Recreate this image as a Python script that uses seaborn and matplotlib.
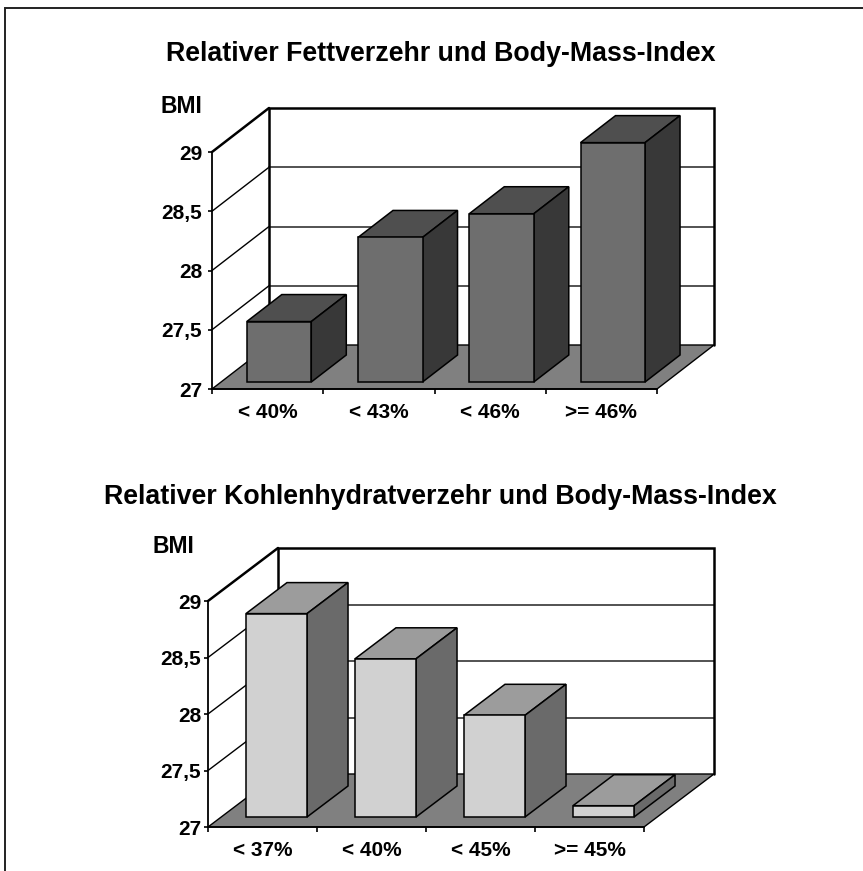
import matplotlib
matplotlib.use("Agg")
import matplotlib.pyplot as plt
import seaborn as sns
from matplotlib.lines import Line2D
from matplotlib.patches import Polygon

sns.set_theme(style="white")
plt.rcParams['font.family'] = ['Liberation Sans', 'DejaVu Sans']
plt.rcParams['font.weight'] = 'bold'

# Data
fat_labels = ['< 40%', '< 43%', '< 46%', '>= 46%']
fat_bmi = [27.51, 28.22, 28.42, 29.02]
carb_labels = ['< 37%', '< 40%', '< 45%', '>= 45%']
carb_bmi = [28.8, 28.4, 27.9, 27.1]
bmi_ticks = [27, 27.5, 28, 28.5, 29]
bmi_tick_labels = ['27', '27,5', '28', '28,5', '29']

W, H = 863, 871


def chart_3d(box, cats, vals, title, title_y, bmi_xy, colors, wall, bar_off, bar_depth, bar_width, ytick_pad):
    # box = left, right, baseline, y of 29 in pixels
    left, right, base, top = box
    ax = fig.add_axes([left / W, 1 - base / H, (right - left) / W, (base - top) / H])
    ax.patch.set_alpha(0)
    sns.barplot(x=cats, y=vals, ax=ax, color=colors[0], saturation=1, width=bar_width,
                edgecolor='black', linewidth=1.1, zorder=5)
    ax.set_xlim(-0.5, 3.5)
    ax.set_ylim(27, 29)

    # pixel -> data scale
    sx = 4 / (right - left)
    sy = 2 / (base - top)
    wx, wy = wall[0] * sx, wall[1] * sy
    ox, oy = bar_off[0] * sx, bar_off[1] * sy
    dx, dy = bar_depth[0] * sx, bar_depth[1] * sy

    # back wall and side wall
    for v in bmi_ticks[1:]:
        is_top = v == bmi_ticks[-1]
        ax.plot([-0.5, -0.5 + wx], [v, v + wy], color='black', lw=1.8 if is_top else 1.0,
                clip_on=False, zorder=1)
        if not is_top:
            ax.plot([-0.5 + wx, 3.5 + wx], [v + wy, v + wy], color='#444444', lw=1.3,
                    clip_on=False, zorder=1)
    ax.plot([-0.5 + wx, -0.5 + wx, 3.5 + wx, 3.5 + wx], [27 + wy, 29 + wy, 29 + wy, 27 + wy],
            color='black', lw=1.8, clip_on=False, zorder=2, solid_joinstyle='miter')

    # floor
    floor = [(-0.5, 27), (3.5, 27), (3.5 + wx, 27 + wy), (-0.5 + wx, 27 + wy)]
    ax.add_patch(Polygon(floor, closed=True, facecolor='#808080', edgecolor='black', lw=1.0,
                         clip_on=False, zorder=3))

    # bars: front face comes from seaborn, top and side are added from it
    for bar, v in zip(ax.patches[:4], vals):
        x0 = bar.get_x() + ox
        w = bar.get_width()
        y0 = 27 + oy
        y1 = v + oy
        bar.set_x(x0)
        bar.set_y(y0)
        bar.set_height(v - 27)
        bar.set_clip_on(False)
        bar.set_zorder(6)
        x1 = x0 + w
        ax.add_patch(Polygon([(x0, y1), (x1, y1), (x1 + dx, y1 + dy), (x0 + dx, y1 + dy)], closed=True,
                             facecolor=colors[1], edgecolor='black', lw=1.1, clip_on=False, zorder=5))
        ax.add_patch(Polygon([(x1, y0), (x1 + dx, y0 + dy), (x1 + dx, y1 + dy), (x1, y1)], closed=True,
                             facecolor=colors[2], edgecolor='black', lw=1.1, clip_on=False, zorder=5))

    # front axes
    for s in ['top', 'right']:
        ax.spines[s].set_visible(False)
    for s in ['left', 'bottom']:
        ax.spines[s].set_linewidth(1.3)
        ax.spines[s].set_color('black')
        ax.spines[s].set_zorder(7)
    ax.set_yticks(bmi_ticks)
    ax.set_yticklabels(bmi_tick_labels, fontsize=15, fontweight='bold', color='black')
    ax.set_xticks(range(4))
    ax.set_xticklabels(cats, fontsize=15, fontweight='bold', color='black')
    ax.set_xticks([-0.5, 0.5, 1.5, 2.5, 3.5], minor=True)
    ax.tick_params(axis='y', which='major', left=True, length=3, width=1.2, color='black', pad=ytick_pad)
    ax.tick_params(axis='x', which='major', bottom=False, length=0, pad=10)
    ax.tick_params(axis='x', which='minor', bottom=True, length=3.6, width=1.2, color='black')
    ax.set_xlabel('')
    ax.set_ylabel('')

    fig.text(bmi_xy[0] / W, 1 - bmi_xy[1] / H, 'BMI', fontsize=16.5, fontweight='bold', ha='right',
             va='baseline', color='black')
    fig.text(440.5 / W, 1 - title_y / H, title, fontsize=19.3, fontweight='bold', ha='center',
             va='baseline', color='black')
    return ax


fig = plt.figure(figsize=(8.63, 8.71), dpi=100)
fig.patch.set_facecolor('white')

# page frame: only left and top edges show
fig.add_artist(Line2D([5 / W, 5 / W, 1], [0, 1 - 8 / H, 1 - 8 / H], transform=fig.transFigure,
                      color='#222222', lw=1.4, solid_joinstyle='miter'))

chart_3d((212, 657, 389, 152), fat_labels, fat_bmi, 'Relativer Fettverzehr und Body-Mass-Index', 61, (202, 113),
         ('#6e6e6e', '#4f4f4f', '#383838'), (57, 44), (11.4, 7), (35, 27), 0.58, 4)
chart_3d((208, 644, 827, 601), carb_labels, carb_bmi, 'Relativer Kohlenhydratverzehr und Body-Mass-Index', 504,
         (194, 553), ('#d1d1d1', '#9c9c9c', '#6a6a6a'), (70, 53), (14, 10), (41, 31), 0.56, 2)

plt.savefig("out.png", dpi=100)
